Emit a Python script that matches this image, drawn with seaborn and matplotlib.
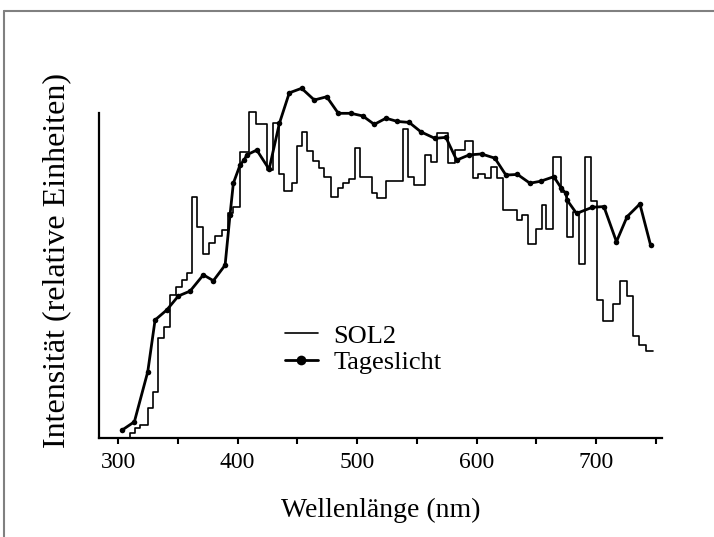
import matplotlib
matplotlib.use("Agg")
import matplotlib.pyplot as plt
import seaborn as sns
import pandas as pd
from matplotlib.lines import Line2D
from matplotlib.ticker import MultipleLocator

# SOL2 lamp spectrum (step curve, value holds until next wavelength)
sol2_nm = [300, 310, 314, 318, 325, 329.5, 333.7, 338.5, 343.5, 348.5, 353.3, 357.4,
           361.6, 366.3, 371.3, 376.3, 381.1, 386.7, 392.2, 396.4, 402, 409.8, 415.4,
           424.3, 429.8, 434.9, 438.8, 445.2, 449.9, 453.6, 457.8, 462.8, 468.3, 472.5,
           478.1, 484.2, 488.4, 493.4, 498.2, 502.3, 512.1, 516.8, 524.1, 538, 542.2,
           547.7, 556.7, 561.5, 566.5, 576.2, 581.8, 590.1, 597.1, 601.3, 606.9, 611.6,
           617.1, 621.7, 633.4, 637.5, 643.1, 649.5, 654.3, 657.9, 664, 670.2, 675.4,
           680.4, 685.5, 690.5, 695.2, 700.3, 705.3, 714.1, 719.7, 725.8, 730.4, 735.9,
           741.5, 747.6]
sol2_val = [0, 1.4, 3.0, 4.0, 9.1, 14.2, 30.7, 34.2, 44.0, 46.4, 48.6, 50.7,
            74.2, 65.0, 56.6, 60.1, 62.2, 64.0, 69.1, 71.2, 88.1, 100.4, 96.6,
            82.5, 96.8, 81.2, 76.0, 78.4, 89.8, 94.2, 88.3, 85.2, 83.0, 80.4,
            74.2, 76.8, 78.6, 79.6, 89.3, 80.4, 75.3, 73.8, 79.1, 95.0, 80.2,
            77.8, 87.1, 85.0, 93.9, 84.7, 88.6, 91.5, 79.9, 81.1, 79.9, 83.5,
            79.9, 70.2, 67.1, 68.6, 59.6, 64.2, 71.7, 64.2, 86.6, 75.7, 61.8,
            69.6, 53.4, 86.6, 73.0, 42.5, 36.1, 41.2, 48.4, 43.7, 31.4, 28.6,
            26.8, 26.8]

# daylight curve (measured points)
tag_nm = [303.6, 313.6, 324.8, 330.9, 340.7, 350.4, 360.2, 371.3, 379.7, 389.5,
          393.6, 396.4, 402, 405.4, 407.6, 416, 426.3, 434.9, 443.2, 453.5, 464.1,
          474.5, 484.2, 494.8, 504.6, 514.3, 524.1, 533.6, 543.5, 553.3, 565, 574.2,
          583.2, 593.6, 604, 615.2, 624.4, 634.1, 644.5, 653.4, 664.5, 670.9, 674.6,
          675.6, 683.5, 696.8, 706.4, 716.9, 725.8, 736.5, 745.4]
tag_val = [2.5, 5.0, 20.4, 36.3, 39.4, 43.7, 45.2, 50.2, 48.4, 53.2,
           68.6, 78.4, 84, 85.5, 87.1, 88.6, 82.7, 96.8, 106.2, 107.6, 104,
           105, 99.9, 99.9, 99.1, 96.5, 98.4, 97.4, 97.1, 94.2, 92.2, 92.5,
           85.5, 87.1, 87.4, 86.1, 80.9, 81.1, 78.4, 79, 80.4, 76.8, 75.3,
           73.2, 69.1, 71, 71.2, 60.4, 68.1, 72, 59.4]

xticks_major = [300, 400, 500, 600, 700]

sol2 = pd.DataFrame({"nm": sol2_nm, "val": sol2_val})
tag = pd.DataFrame({"nm": tag_nm, "val": tag_val})

sns.set_style("white")
plt.rcParams["font.family"] = ["Liberation Serif", "DejaVu Serif"]
plt.rcParams["text.color"] = "black"
plt.rcParams["axes.labelcolor"] = "black"
plt.rcParams["xtick.color"] = "black"

fig = plt.figure(figsize=(7.14, 5.37), dpi=100)
ax = fig.add_axes([99 / 714, 99 / 537, 563 / 714, 373.75 / 537])

sns.lineplot(data=sol2, x="nm", y="val", drawstyle="steps-post", color="black",
             lw=1.2, estimator=None, sort=False, label="SOL2", ax=ax)
sns.lineplot(data=tag, x="nm", y="val", color="black", lw=2.0, marker="o",
             markersize=4, markeredgewidth=0, estimator=None, sort=False,
             label="Tageslicht", ax=ax)

ax.set_xlim(284, 755)
ax.set_ylim(0, 115)
ax.spines["top"].set_visible(False)
ax.spines["right"].set_visible(False)
ax.spines["left"].set_bounds(0, 100)
for s in ["left", "bottom"]:
    ax.spines[s].set_linewidth(1.6)
    ax.spines[s].set_color("black")

ax.set_xticks(xticks_major)
ax.xaxis.set_minor_locator(MultipleLocator(50))
ax.tick_params(axis="x", which="both", direction="out", length=4, width=1.5,
               color="black", labelcolor="black", bottom=True)
ax.tick_params(axis="x", which="major", labelsize=17, pad=6)
ax.set_yticks([])

ax.set_xlabel("Wellenlänge (nm)", fontsize=20, labelpad=18, color="black")
ax.set_ylabel("Intensität (relative Einheiten)", fontsize=23, color="black")
ax.yaxis.set_label_coords(-0.05, 0.476)

leg = ax.legend(loc="center left", bbox_to_anchor=(0.330, 0.238), frameon=False,
                fontsize=19, handlelength=1.25, handletextpad=0.6,
                labelspacing=0.1, borderpad=0, borderaxespad=0)
leg.legend_handles[1].set_markersize(7)
for t in leg.get_texts():
    t.set_color("black")

# frame lines of the original scan
fig.add_artist(Line2D([4 / 714, 1], [1 - 11 / 537, 1 - 11 / 537], color="#808080", lw=1.5))
fig.add_artist(Line2D([4 / 714, 4 / 714], [0, 1 - 11 / 537], color="#808080", lw=1.5))

plt.savefig("out.png", dpi=100)
